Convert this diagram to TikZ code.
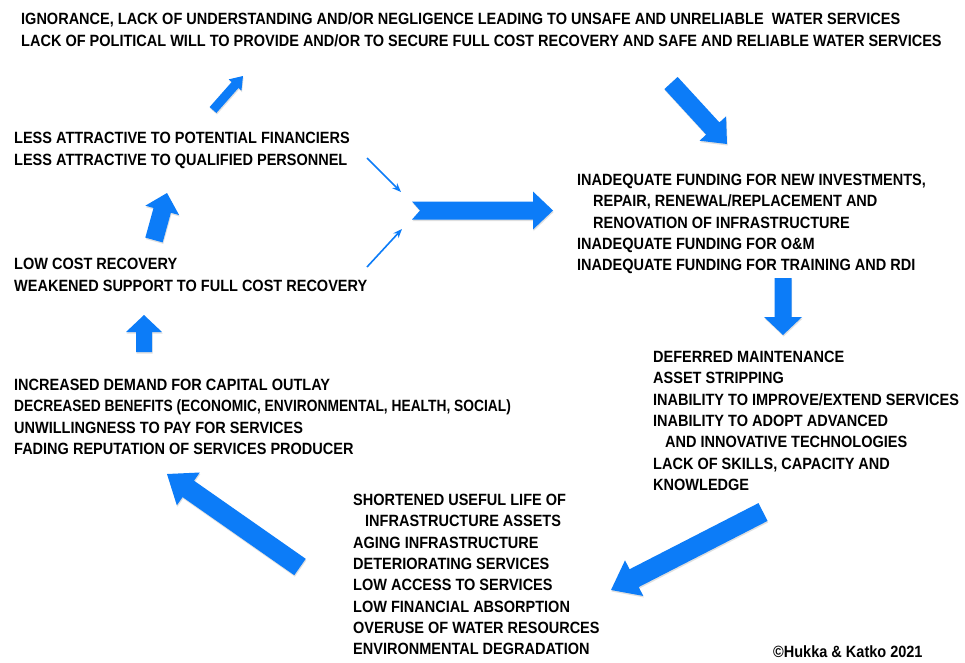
\documentclass[tikz,border=0pt]{standalone}
\usepackage{fontspec}
\setmainfont{Liberation Sans}
\usetikzlibrary{calc,arrows.meta,shadows}
\definecolor{ablue}{RGB}{12,124,248}
% #1 notch depth, #2 tail, #3 tip, #4 shaft half width, #5 head half width, #6 head length
\newcommand\blockarrow[6][0pt]{%
  \coordinate (ba-h) at ($(#3)!#6!(#2)$);
  \fill[barrow] ($(#2)!#4!90:(#3)$) -- ($(ba-h)!#4!-90:(#2)$) -- ($(ba-h)!#5!-90:(#2)$)
    -- (#3) -- ($(ba-h)!#5!90:(#2)$) -- ($(ba-h)!#4!90:(#2)$) -- ($(#2)!#4!-90:(#3)$)
    -- ($(#2)!#1!(#3)$) -- cycle;}
\newcommand\txtfont[1]{\fontsize{16.3}{#1}\selectfont\bfseries\addfontfeatures{FakeStretch=0.89}}
\tikzset{
  barrow/.style={ablue, drop shadow={opacity=0.25, shadow xshift=0.6pt, shadow yshift=-1.5pt}},
  thinarrow/.style={ablue, line width=1.6pt, -{Stealth[length=9pt,width=7pt]}},
  txt/.style={anchor=north west, inner sep=0pt, align=left, font=\txtfont{21.3}},
  txtwide/.style={txt, font=\txtfont{22}},
}
\begin{document}
\begin{tikzpicture}[x=1pt,y=-1pt]
\useasboundingbox[fill=white] (0,0) rectangle (965,662);

% texts
\node[txtwide] (hdr) at (21,12)
 {IGNORANCE, LACK OF UNDERSTANDING AND/OR NEGLIGENCE LEADING TO UNSAFE AND UNRELIABLE\ \ WATER SERVICES\\
  LACK OF POLITICAL WILL TO PROVIDE AND/OR TO SECURE FULL COST RECOVERY AND SAFE AND RELIABLE WATER SERVICES};

\node[txtwide] (la) at (14,132)
 {LESS ATTRACTIVE TO POTENTIAL FINANCIERS\\ LESS ATTRACTIVE TO QUALIFIED PERSONNEL};

\node[txtwide] (lcr) at (14,258)
 {LOW COST RECOVERY\\ WEAKENED SUPPORT TO FULL COST RECOVERY};

\node[txt] (idm) at (14,379)
 {INCREASED DEMAND FOR CAPITAL OUTLAY\\
  {\addfontfeatures{FakeStretch=0.846}DECREASED BENEFITS (ECONOMIC, ENVIRONMENTAL, HEALTH, SOCIAL)}\\
  UNWILLINGNESS TO PAY FOR SERVICES\\
  FADING REPUTATION OF SERVICES PRODUCER};

\node[txt] (inf) at (577,174)
 {INADEQUATE FUNDING FOR NEW INVESTMENTS,\\
  \hspace*{16pt}REPAIR, RENEWAL/REPLACEMENT AND\\
  \hspace*{16pt}RENOVATION OF INFRASTRUCTURE\\
  INADEQUATE FUNDING FOR O\&M\\
  INADEQUATE FUNDING FOR TRAINING AND RDI};

\node[txt] (dm) at (653,351)
 {DEFERRED MAINTENANCE\\
  ASSET STRIPPING\\
  INABILITY TO IMPROVE/EXTEND SERVICES\\
  INABILITY TO ADOPT ADVANCED\\
  \hspace*{12pt}AND INNOVATIVE TECHNOLOGIES\\
  LACK OF SKILLS, CAPACITY AND\\
  KNOWLEDGE};

\node[txt] (sh) at (353,494)
 {SHORTENED USEFUL LIFE OF\\
  \hspace*{12pt}INFRASTRUCTURE ASSETS\\
  AGING INFRASTRUCTURE\\
  DETERIORATING SERVICES\\
  LOW ACCESS TO SERVICES\\
  LOW FINANCIAL ABSORPTION\\
  OVERUSE OF WATER RESOURCES\\
  ENVIRONMENTAL DEGRADATION};

\node[anchor=west, inner sep=0pt, font=\txtfont{18}] (copy) at (773,652)
 {©Hukka \& Katko 2021};

% arrow end points
\coordinate (a1s) at (213,110); \coordinate (a1e) at (243,76);
\coordinate (a2s) at (671,83);  \coordinate (a2e) at (727,144);
\coordinate (a5s) at (412,210.5); \coordinate (a5e) at (553,210.5);
\coordinate (a6s) at (783,278); \coordinate (a6e) at (783,335);
\coordinate (a7s) at (144,352); \coordinate (a7e) at (144,315);
\coordinate (a8s) at (154,240); \coordinate (a8e) at (167,193);
\coordinate (a9s) at (763,512); \coordinate (a9e) at (611,590);
\coordinate (a10s) at (300,567); \coordinate (a10e) at (167,474);
\coordinate (t1s) at (367,158); \coordinate (t1e) at (401,192);
\coordinate (t2s) at (367,267); \coordinate (t2e) at (402,229);

% block arrows
\blockarrow{a1s}{a1e}{4.5pt}{8.5pt}{12pt}
\blockarrow{a2s}{a2e}{9pt}{18pt}{21pt}
\blockarrow[8pt]{a5s}{a5e}{9pt}{19pt}{20pt}
\blockarrow{a6s}{a6e}{8.5pt}{19pt}{18pt}
\blockarrow{a7s}{a7e}{8pt}{18pt}{17pt}
\blockarrow{a8s}{a8e}{9pt}{17.5pt}{18pt}
\blockarrow{a9s}{a9e}{10pt}{20pt}{26pt}
\blockarrow{a10s}{a10e}{10pt}{20pt}{26pt}

% thin arrows
\draw[thinarrow] (t1s) -- (t1e);
\draw[thinarrow] (t2s) -- (t2e);
\end{tikzpicture}
\end{document}
